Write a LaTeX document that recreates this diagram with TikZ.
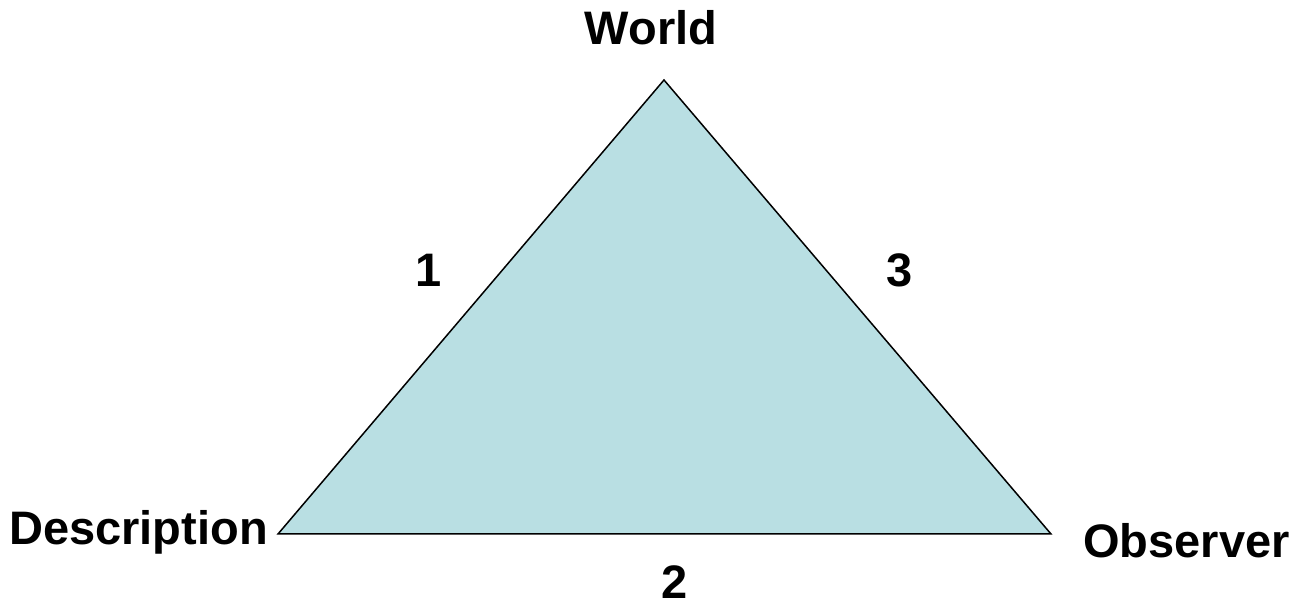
\documentclass[tikz,border=0pt]{standalone}
\usepackage{fontspec}
\setmainfont{Liberation Sans}
\usepackage{tikz}
\usetikzlibrary{positioning}
\definecolor{trifill}{RGB}{185,223,227}
\definecolor{triline}{HTML}{000000}
\tikzset{
  cornerlbl/.style = {font=\fontsize{47}{56}\selectfont\bfseries, inner sep=0pt, text=black},
  sidelbl/.style   = {cornerlbl, anchor=base},
  triface/.style   = {fill=trifill, draw=triline, line width=1.5pt, line join=miter},
}
\begin{document}
\begin{tikzpicture}[x=1pt, y=1pt]
        \useasboundingbox (0,0) rectangle (1301,613);
        \coordinate (wld) at (664,533);
        \coordinate (dsc) at (278,79);
        \coordinate (obs) at (1051,79);
        \draw[triface] (wld) -- (dsc) -- (obs) -- cycle;
        \node[cornerlbl, anchor=base]      (wldlbl) at (651,568) {World};
        \node[cornerlbl, anchor=base east] (dsclbl) at (268,68)  {Description};
        \node[cornerlbl, anchor=base west] (obslbl) at (1083,55) {Observer};
        \node[sidelbl] (one)   at (429,326) {1};
        \node[sidelbl] (two)   at (675,14)  {2};
        \node[sidelbl] (three) at (900,326) {3};
    \end{tikzpicture}
\end{document}
